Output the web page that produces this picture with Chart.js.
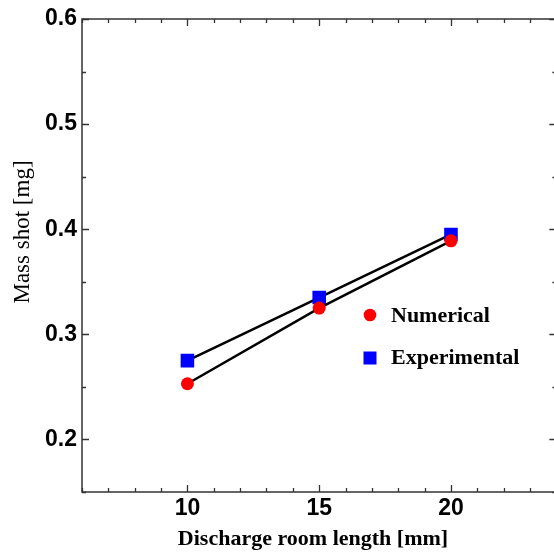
<!DOCTYPE html>
<html>
<head>
<meta charset="utf-8">
<script src="https://cdn.jsdelivr.net/npm/chart.js@4"></script>
<style>
  html, body { margin: 0; padding: 0; background: #fff; overflow: hidden; }
  #grafico { position: absolute; left: 0; top: 0; }
</style>
</head>
<body>
<canvas id="grafico" width="566" height="554"></canvas>
<script>
// valores
const comprimentos = [10, 15, 20] // mm
const numerico = [0.253, 0.325, 0.389]
const experimental = [0.275, 0.335, 0.395]
const nomesSeries = ['Numerical', 'Experimental']
const coresSeries = ['#ff0000', '#0000ff']
const tituloX = 'Discharge room length [mm]'
const tituloY = 'Mass shot [mg]'
const limitesX = [6, 24]
const limitesY = [0.15, 0.6]

function pontos(valores) {
    return comprimentos.map((x, i) => ({ x: x, y: valores[i] }))
}

function ehMaiorY(v) {
    return Math.abs(v * 10 - Math.round(v * 10)) < 1e-6
}

// moldura com ticks pra dentro, titulos dos eixos e legenda dentro do grafico
const moldura = {
    id: 'moldura',
    afterDraw(chart) {
        const ctx = chart.ctx
        const area = chart.chartArea
        const sx = chart.scales.x
        const sy = chart.scales.y

        ctx.save()
        ctx.strokeStyle = '#333'
        ctx.lineWidth = 1.5
        ctx.strokeRect(area.left, area.top, area.right - area.left, area.bottom - area.top)

        ctx.lineWidth = 1.3
        ctx.beginPath()
        for (const t of sx.ticks) {
            const px = Math.round(sx.getPixelForValue(t.value)) + 0.5
            const tam = t.value % 5 === 0 ? 7 : 4
            ctx.moveTo(px, area.bottom)
            ctx.lineTo(px, area.bottom - tam)
            ctx.moveTo(px, area.top)
            ctx.lineTo(px, area.top + tam)
        }
        for (const t of sy.ticks) {
            const py = Math.round(sy.getPixelForValue(t.value)) + 0.5
            const tam = ehMaiorY(t.value) ? 7 : 4
            ctx.moveTo(area.left, py)
            ctx.lineTo(area.left + tam, py)
            ctx.moveTo(area.right, py)
            ctx.lineTo(area.right - tam, py)
        }
        ctx.stroke()

        // titulos
        ctx.fillStyle = '#000'
        ctx.font = 'bold 22px "Liberation Serif"'
        ctx.textAlign = 'center'
        ctx.textBaseline = 'alphabetic'
        ctx.fillText(tituloX, 313, 545)

        ctx.save()
        ctx.translate(29, 232)
        ctx.rotate(-Math.PI / 2)
        ctx.font = '23px "Liberation Serif"'
        ctx.fillText(tituloY, 0, 0)
        ctx.restore()

        // legenda
        ctx.textAlign = 'left'
        ctx.font = 'bold 22px "Liberation Serif"'
        const lx = area.left + 288
        const ly = [area.top + 296, area.top + 339]
        ctx.fillStyle = coresSeries[0]
        ctx.beginPath()
        ctx.arc(lx, ly[0], 6.3, 0, Math.PI * 2)
        ctx.fill()
        ctx.fillStyle = coresSeries[1]
        ctx.fillRect(lx - 6.5, ly[1] - 6.5, 13, 13)
        ctx.fillStyle = '#000'
        ctx.fillText(nomesSeries[0], lx + 21, ly[0] + 7)
        ctx.fillText(nomesSeries[1], lx + 21, ly[1] + 6)
        ctx.restore()
    }
}

const graficoReal = document.getElementById('grafico')

new Chart(graficoReal, {
    type: 'line',
    data: {
        datasets: [{
            label: nomesSeries[0],
            data: pontos(numerico),
            borderColor: '#000',
            borderWidth: 2.5,
            pointStyle: 'circle',
            pointRadius: 6.5,
            pointBackgroundColor: coresSeries[0],
            pointBorderWidth: 0
        }, {
            label: nomesSeries[1],
            data: pontos(experimental),
            borderColor: '#000',
            borderWidth: 2.5,
            pointStyle: 'rect',
            pointRadius: 9.6,
            pointBackgroundColor: coresSeries[1],
            pointBorderWidth: 0
        }]
    },
    options: {
        responsive: false,
        animation: false,
        devicePixelRatio: 1,
        layout: { padding: { top: 19, right: 4, bottom: 0, left: 0 } },
        plugins: {
            legend: { display: false },
            tooltip: { enabled: false }
        },
        scales: {
            x: {
                type: 'linear',
                min: limitesX[0],
                max: limitesX[1],
                grid: { display: false, drawTicks: false },
                border: { display: false },
                ticks: {
                    stepSize: 1,
                    autoSkip: false,
                    maxRotation: 0,
                    padding: 3,
                    color: '#000',
                    font: { family: '"Liberation Sans"', size: 23, weight: 'bold' },
                    callback: v => (v % 5 === 0 ? String(v) : '')
                },
                afterFit: s => { s.height = 62 }
            },
            y: {
                min: limitesY[0],
                max: limitesY[1],
                grid: { display: false, drawTicks: false },
                border: { display: false },
                ticks: {
                    stepSize: 0.05,
                    autoSkip: false,
                    padding: 5,
                    color: '#000',
                    font: { family: '"Liberation Sans"', size: 23, weight: 'bold' },
                    callback: v => (ehMaiorY(v) ? v.toFixed(1) : '')
                },
                afterFit: s => { s.width = 82 }
            }
        }
    },
    plugins: [moldura]
})
</script>
</body>
</html>
